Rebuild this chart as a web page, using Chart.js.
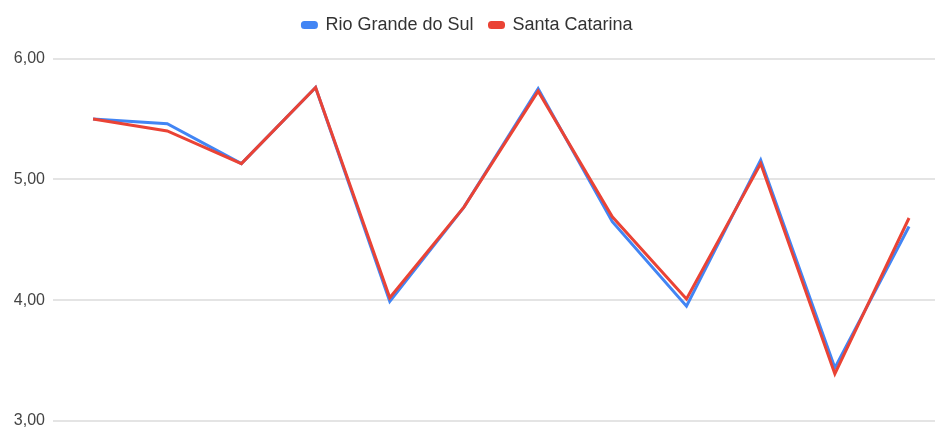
<!DOCTYPE html>
<html>
<head>
<meta charset="utf-8">
<script src="https://cdn.jsdelivr.net/npm/chart.js@4/dist/chart.umd.min.js"></script>
<style>
  html, body { margin: 0; padding: 0; background: #fff; }
  #box { width: 935px; height: 428px; position: relative; }
</style>
</head>
<body>
<div id="box"><canvas id="grafico"></canvas></div>
<script>
// posicoes dos pontos no eixo x (o eixo nao tem rotulos)
var posicoes = [1, 2, 3, 4, 5, 6, 7, 8, 9, 10, 11, 12];
var rioGrandeDoSul = [5.50, 5.46, 5.13, 5.76, 3.99, 4.77, 5.75, 4.65, 3.95, 5.16, 3.44, 4.61];
var santaCatarina = [5.50, 5.40, 5.13, 5.76, 4.02, 4.77, 5.73, 4.69, 4.01, 5.13, 3.39, 4.68];
var ticksY = [3, 4, 5, 6];

function pontos(valores) {
  return valores.map(function (v, i) { return { x: posicoes[i], y: v }; });
}

var fonte = "'Liberation Sans', Arial, sans-serif";

// espaco extra abaixo da legenda
var espacoLegenda = {
  id: 'espacoLegenda',
  beforeInit: function (chart) {
    var fitOriginal = chart.legend.fit;
    chart.legend.fit = function () {
      fitOriginal.call(this);
      this.height += 14.5;
    };
  }
};

var ctx = document.getElementById('grafico');
// Santa Catarina vem primeiro para ficar por cima; a legenda e invertida
var chartGraph = new Chart(ctx, {
  type: 'line',
  data: {
    datasets: [
      {
        label: 'Santa Catarina',
        data: pontos(santaCatarina),
        borderWidth: 3,
        borderColor: '#ea4335',
        backgroundColor: '#ea4335',
        pointRadius: 0,
        tension: 0
      },
      {
        label: 'Rio Grande do Sul',
        data: pontos(rioGrandeDoSul),
        borderWidth: 3,
        borderColor: '#4285f4',
        backgroundColor: '#4285f4',
        pointRadius: 0,
        tension: 0
      }
    ]
  },
  plugins: [espacoLegenda],
  options: {
    responsive: true,
    maintainAspectRatio: false,
    animation: false,
    layout: { padding: { top: 0, right: 0, bottom: 7, left: 0 } },
    plugins: {
      tooltip: { enabled: false },
      legend: {
        position: 'top',
        reverse: true,
        labels: {
          boxWidth: 14,
          boxHeight: 5,
          useBorderRadius: true,
          borderRadius: 2,
          padding: 16,
          color: '#333',
          font: { family: fonte, size: 18 }
        }
      }
    },
    scales: {
      x: {
        type: 'linear',
        min: 0.46,
        max: 12.35,
        display: false
      },
      y: {
        min: 3,
        max: 6,
        afterBuildTicks: function (scale) {
          scale.ticks = ticksY.map(function (v) { return { value: v }; });
        },
        afterFit: function (scale) {
          scale.width = 53;
          scale.paddingTop = 0;
          scale.paddingBottom = 0;
        },
        border: { display: false },
        grid: { color: '#e4e4e4', lineWidth: 2, drawTicks: false },
        ticks: {
          padding: 8,
          color: '#444',
          font: { family: fonte, size: 16 },
          callback: function (v) { return v.toFixed(2).replace('.', ','); }
        }
      }
    }
  }
});
</script>
</body>
</html>
